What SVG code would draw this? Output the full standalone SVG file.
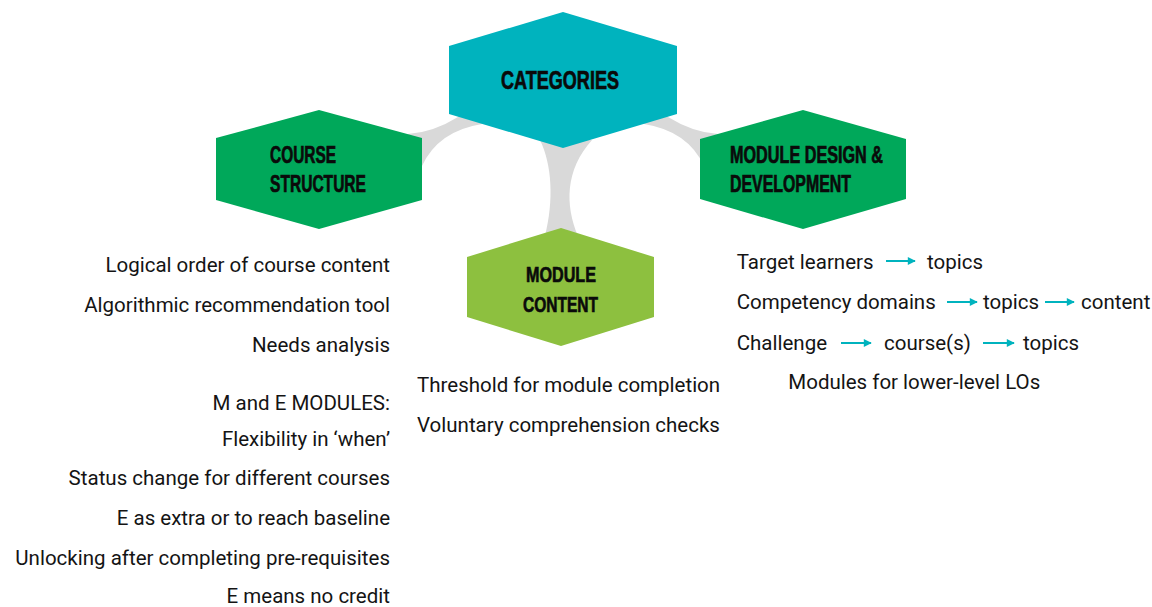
<svg xmlns="http://www.w3.org/2000/svg" width="1152" height="607" viewBox="0 0 1152 607">
<style>
.hexlabel{font-family:"Liberation Sans","DejaVu Sans",sans-serif;font-weight:bold;fill:#0a0a0a;stroke:#0a0a0a;stroke-width:0.7;}
.body{font-family:Roboto,"Liberation Sans",sans-serif;font-size:20.5px;fill:#141414;}
.conn{fill:#d9d9d9;stroke:none;}
.arrow{stroke:#00b3be;stroke-width:2;fill:none;marker-end:url(#ah);}
</style>
<defs>
<marker id="ah" viewBox="0 0 10 10" refX="9" refY="5" markerWidth="9" markerHeight="8" markerUnits="userSpaceOnUse" orient="auto">
<path d="M0,0 L10,5 L0,10 Z" fill="#00b3be"/>
</marker>
</defs>
<rect width="1152" height="607" fill="#ffffff"/>
<g id="connectors">
<path class="conn" d="M408,134 Q433,132.5 458,117 L470,108 L490,112 L482,124 Q438,131 422,166 L412,166 Z"/>
<path class="conn" d="M718,134 Q693,132.5 668,117 L656,108 L636,112 L644,124 Q688,131 704,166 L714,166 Z"/>
<path class="conn" d="M540,140 C552,165 554,200 545,236 L578,236 C565,205 565,170 592,140 Z"/>
</g>
<g id="node-categories">
<polygon points="563,12 677,46 677,114 563,148 449,114 449,46" fill="#00b3be"/>
<text class="hexlabel" x="501" y="89" font-size="26.5" textLength="118" lengthAdjust="spacingAndGlyphs">CATEGORIES</text>
</g>
<g id="node-course-structure">
<polygon points="319,110 422,138 422,200 319,229 216,200 216,138" fill="#00a85a"/>
<text class="hexlabel" x="270" y="163" font-size="23.3" textLength="66" lengthAdjust="spacingAndGlyphs">COURSE</text>
<text class="hexlabel" x="270" y="191.7" font-size="23.3" textLength="96" lengthAdjust="spacingAndGlyphs">STRUCTURE</text>
</g>
<g id="node-module-design">
<polygon points="803,110 906,139 906,199 803,229 700,199 700,139" fill="#00a85a"/>
<text class="hexlabel" x="730" y="162.7" font-size="23" textLength="153" lengthAdjust="spacingAndGlyphs">MODULE DESIGN &amp;</text>
<text class="hexlabel" x="730" y="191.7" font-size="23" textLength="121" lengthAdjust="spacingAndGlyphs">DEVELOPMENT</text>
</g>
<g id="node-module-content">
<polygon points="561,228 654,257 654,317 561,346 467,317 467,257" fill="#8dc03f"/>
<text class="hexlabel" x="526" y="282" font-size="22.5" textLength="70" lengthAdjust="spacingAndGlyphs">MODULE</text>
<text class="hexlabel" x="523" y="312" font-size="22.5" textLength="75" lengthAdjust="spacingAndGlyphs">CONTENT</text>
</g>
<g id="course-structure-items" text-anchor="end">
<text class="body" x="390" y="271.7">Logical order of course content</text>
<text class="body" x="390" y="311.7">Algorithmic recommendation tool</text>
<text class="body" x="390" y="351.7">Needs analysis</text>
<text class="body" x="390" y="410">M and E MODULES:</text>
<text class="body" x="390" y="446">Flexibility in ‘when’</text>
<text class="body" x="390" y="484.5">Status change for different courses</text>
<text class="body" x="390" y="525">E as extra or to reach baseline</text>
<text class="body" x="390" y="565">Unlocking after completing pre-requisites</text>
<text class="body" x="390" y="603">E means no credit</text>
</g>
<g id="module-content-items">
<text class="body" x="417" y="391.5">Threshold for module completion</text>
<text class="body" x="417" y="431.5">Voluntary comprehension checks</text>
</g>
<g id="module-design-items">
<text class="body" x="736.7" y="269.3">Target learners</text>
<text class="body" x="927" y="269.3">topics</text>
<text class="body" x="736.7" y="309.3">Competency domains</text>
<text class="body" x="983" y="309.3">topics</text>
<text class="body" x="1081" y="309.3">content</text>
<text class="body" x="736.7" y="350">Challenge</text>
<text class="body" x="884" y="350">course(s)</text>
<text class="body" x="1023" y="350">topics</text>
<text class="body" x="788.3" y="389.3">Modules for lower-level LOs</text>
</g>
<g id="arrows">
<line class="arrow" x1="886" y1="261" x2="915" y2="261"/>
<line class="arrow" x1="947" y1="302" x2="977" y2="302"/>
<line class="arrow" x1="1045" y1="302" x2="1074" y2="302"/>
<line class="arrow" x1="841" y1="343" x2="871" y2="343"/>
<line class="arrow" x1="983" y1="343" x2="1014" y2="343"/>
</g>
</svg>
